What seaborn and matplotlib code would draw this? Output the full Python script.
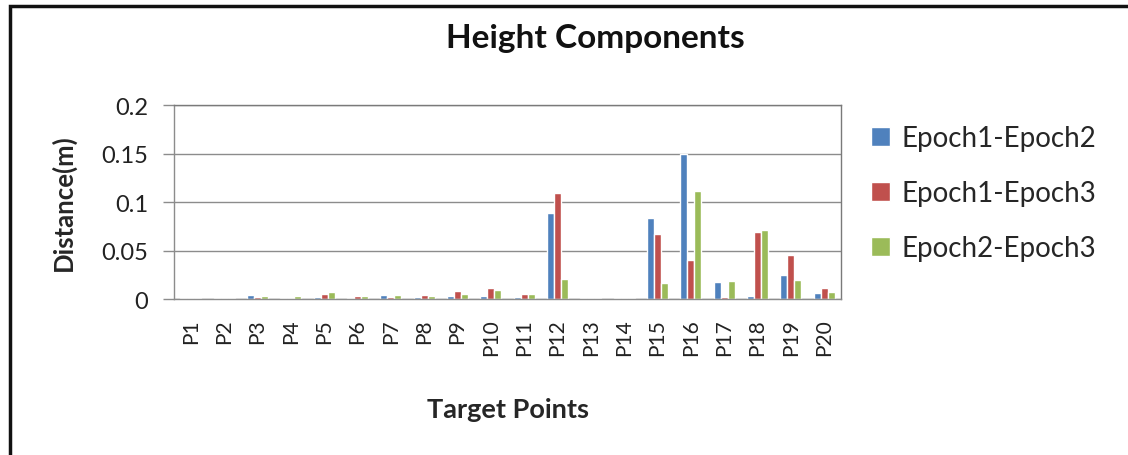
import matplotlib
matplotlib.use("Agg")
import matplotlib.pyplot as plt
from matplotlib.patches import Rectangle
import seaborn as sns
import pandas as pd

# Target point labels
points = [f"P{i}" for i in range(1, 21)]

# Height differences between epochs (m)
epoch1_epoch2 = [0.0015, 0.0015, 0.0045, 0.0015, 0.0020, 0.0015, 0.0045, 0.0017, 0.0027, 0.0030,
                 0.0017, 0.0885, 0.0012, 0.0012, 0.0831, 0.1490, 0.0177, 0.0034, 0.0248, 0.0058]
epoch1_epoch3 = [0.0015, 0.0015, 0.0017, 0.0015, 0.0048, 0.0030, 0.0017, 0.0045, 0.0082, 0.0110,
                 0.0055, 0.1096, 0.0012, 0.0012, 0.0672, 0.0400, 0.0017, 0.0686, 0.0455, 0.0112]
epoch2_epoch3 = [0.0012, 0.0012, 0.0030, 0.0027, 0.0068, 0.0030, 0.0045, 0.0030, 0.0055, 0.0095,
                 0.0055, 0.0208, 0.0010, 0.0010, 0.0167, 0.1110, 0.0183, 0.0712, 0.0197, 0.0068]

series_names = ["Epoch1-Epoch2", "Epoch1-Epoch3", "Epoch2-Epoch3"]
series_colors = ["#4F81BD", "#C0504D", "#9BBB59"]
y_ticks = [0, 0.05, 0.1, 0.15, 0.2]
y_tick_labels = ["0", "0.05", "0.1", "0.15", "0.2"]

df = pd.DataFrame({
    "point": points * 3,
    "series": [s for s in series_names for _ in points],
    "value": epoch1_epoch2 + epoch1_epoch3 + epoch2_epoch3,
})

sns.set_style("white")
plt.rcParams["font.family"] = ["Lato", "DejaVu Sans"]

fig = plt.figure(figsize=(11.28, 4.56), dpi=100)
ax = fig.add_axes([0.1545, 0.342, 0.591, 0.4255])

sns.barplot(data=df, x="point", y="value", hue="series", order=points,
            hue_order=series_names, palette=series_colors, width=0.63,
            saturation=1, ax=ax, legend=True)

ax.set_ylim(0, 0.2)
ax.set_xlim(-0.5, len(points) - 0.5)
ax.set_yticks(y_ticks)
ax.set_yticklabels(y_tick_labels, fontsize=17, color="#222222")
ax.set_xticks(range(len(points)))
ax.set_xticklabels(points, rotation=90, fontsize=15, color="#222222")
ax.tick_params(axis="x", length=0, pad=14)
ax.tick_params(axis="y", length=8, width=1, color="#8c8c8c", pad=11, left=True)
ax.yaxis.grid(True, color="#8c8c8c", linewidth=1)
ax.set_axisbelow(True)

for side in ["left", "bottom"]:
    ax.spines[side].set_color("#8c8c8c")
    ax.spines[side].set_linewidth(1)
for side in ["top", "right"]:
    ax.spines[side].set_visible(True)
    ax.spines[side].set_color("#7a7a7a")
    ax.spines[side].set_linewidth(1)

ax.set_xlabel("Target Points", fontsize=19.5, fontweight="bold", labelpad=30)
ax.set_ylabel("Distance(m)", fontsize=18.5, fontweight="bold", labelpad=18)

fig.text(0.528, 0.915, "Height Components", ha="center", va="center",
         fontsize=24, fontweight="bold", color="#111111")

handles, labels = ax.get_legend_handles_labels()
ax.legend(handles, labels, loc="center left", bbox_to_anchor=(1.028, 0.545),
          frameon=False, fontsize=20, handlelength=0.7, handleheight=0.7,
          handletextpad=0.4, labelspacing=1.05, borderaxespad=0)

# Outer chart frame, running past the right and bottom edges
fig.add_artist(Rectangle((0.0085, -0.05), 1.1, 1.035, transform=fig.transFigure,
                         fill=False, edgecolor="#111111", linewidth=2.5))

fig.savefig("out.png", dpi=100, facecolor="white")
